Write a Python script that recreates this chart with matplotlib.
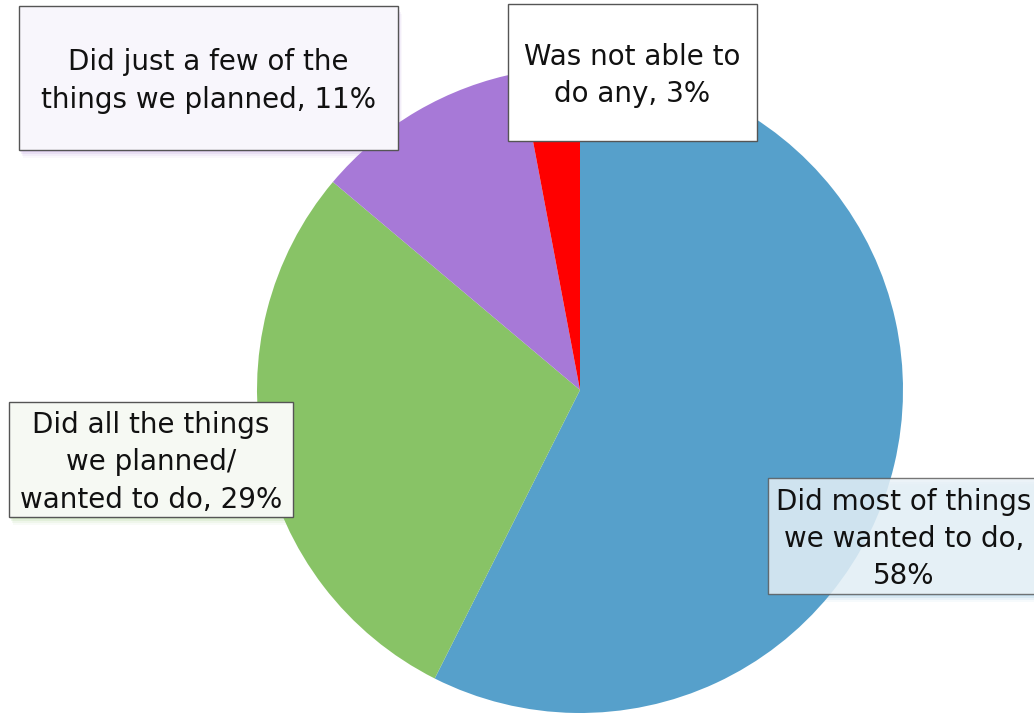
import matplotlib.pyplot as plt
from matplotlib.patches import Rectangle

# slice values as shown (rounded, sum to 101)
labels = ["Did most of things\nwe wanted to do,\n58%",
          "Did all the things\nwe planned/\nwanted to do, 29%",
          "Did just a few of the\nthings we planned, 11%",
          "Was not able to\ndo any, 3%"]
values = [58, 29, 11, 3]
colors = ["#56A0CB", "#88C366", "#A779D7", "#FF0000"]

# label box layout in pixels (left, top, right, bottom) and tint
boxes = [(768, 478, 1040, 594), (9, 402, 293, 517), (19, 6, 398, 150), (508, 4, 757, 141)]
fills = ["#EEF5F9", "#F6F9F3", "#F8F6FC", "#FFFFFF"]
alphas = [0.8, 1.0, 1.0, 1.0]
shadows = [True, True, True, False]

W, H = 1034, 716
fig = plt.figure(figsize=(W / 100, H / 100), dpi=100)
ax = fig.add_axes([0, 0, 1, 1])
ax.set_xlim(0, W)
ax.set_ylim(0, H)
ax.set_aspect("equal")
ax.axis("off")

ax.pie(values, colors=colors, startangle=90, counterclock=False,
       center=(580, H - 390), radius=323, wedgeprops=dict(linewidth=0))
ax.set_xlim(0, W)
ax.set_ylim(0, H)

for lab, (l, t, r, b), fc, col, a, sh in zip(labels, boxes, fills, colors, alphas, shadows):
    w, h = r - l, b - t
    if sh:
        # soft tinted shadow below/right
        for k, sa in [(8, 0.05), (6, 0.08), (4, 0.12), (2, 0.15)]:
            ax.add_patch(Rectangle((l + k / 2, H - b - k), w, h, facecolor=col,
                                   edgecolor="none", alpha=sa, zorder=3))
    ax.add_patch(Rectangle((l, H - b), w, h, facecolor=fc, edgecolor="#555555",
                           linewidth=1, alpha=a, zorder=4))
    ax.text(l + w / 2, H - (t + b) / 2 - 3, lab, ha="center", va="center",
            fontsize=20, family="DejaVu Sans", color="#111111",
            linespacing=1.42, zorder=5)

fig.savefig("out.png", dpi=100)
